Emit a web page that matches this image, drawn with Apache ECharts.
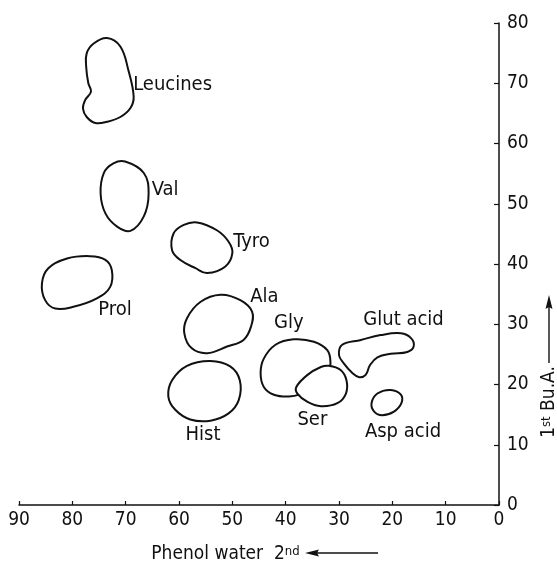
<!DOCTYPE html>
<html><head><meta charset="utf-8">
<script src="https://cdn.jsdelivr.net/npm/echarts@6/dist/echarts.min.js"></script>
<style>html,body{margin:0;padding:0;background:#fff}#c{width:557px;height:566px}</style>
</head><body><div id="c"></div>
<script>
// ---- data ----
const xTickValues = [0, 10, 20, 30, 40, 50, 60, 70, 80, 90];
const yTickValues = [0, 10, 20, 30, 40, 50, 60, 70, 80];
const spotNames = ['Leucines', 'Val', 'Tyro', 'Prol', 'Ala', 'Hist', 'Gly', 'Ser', 'Glut acid', 'Asp acid'];
// spot outlines: [phenol water (x), Bu.A. (y)]
const leucines = [[73.5,77.5],[71.0,76.1],[69.5,72.2],[68.5,67.8],[69.1,65.9],[71.0,64.4],[73.5,63.6],[75.7,63.4],[77.3,64.4],[78.0,65.8],[77.6,67.2],[76.5,68.6],[77.0,70.0],[77.4,72.7],[77.3,75.0],[76.0,76.6]];
const val = [[70.1,57.0],[66.6,55.1],[65.7,51.7],[66.6,47.9],[69.1,45.5],[71.6,46.2],[73.8,48.4],[74.7,51.7],[74.1,55.1],[72.3,56.7]];
const tyro = [[56.6,46.9],[52.9,45.6],[50.7,43.7],[50.0,41.8],[51.3,39.6],[54.7,38.5],[56.9,39.3],[59.8,40.7],[61.3,42.3],[61.0,45.1],[59.1,46.5]];
const prol = [[76.7,41.3],[73.8,40.7],[72.6,39.0],[72.9,36.2],[75.4,34.3],[79.8,32.9],[83.2,32.6],[85.1,34.0],[85.7,36.8],[84.5,39.3],[81.0,40.9]];
const ala = [[52.2,34.9],[48.5,34.0],[46.3,32.1],[46.5,29.6],[47.9,27.4],[51.0,26.3],[54.7,25.2],[57.6,26.0],[59.0,28.5],[58.5,31.0],[56.0,33.7]];
const hist = [[54.1,23.9],[50.4,23.0],[48.6,20.7],[48.8,17.4],[50.7,15.2],[54.1,14.0],[57.9,14.2],[60.7,15.8],[62.0,18.0],[61.3,20.7],[58.5,23.1]];
const gly = [[38.5,27.5],[34.7,27.1],[32.2,25.7],[31.6,23.7],[32.1,21.6],[34.4,19.6],[37.2,18.4],[39.4,18.0],[42.2,18.3],[44.1,19.6],[44.7,21.9],[44.1,24.3],[41.9,26.6]];
const ser = [[31.9,23.1],[29.7,22.4],[28.6,20.7],[28.7,18.5],[30.3,16.9],[33.4,16.4],[35.9,17.1],[37.8,18.5],[38.0,19.6],[35.9,21.6],[33.4,22.9]];
const glutAcid = [[29.4,26.6],[25.9,27.4],[22.2,28.2],[18.4,28.5],[16.5,27.7],[16.0,26.3],[17.2,25.4],[20.3,25.1],[22.8,24.5],[24.2,23.2],[25.0,21.6],[26.2,21.2],[27.5,21.9],[29.1,23.5],[30.0,24.9]];
const aspAcid = [[20.3,19.1],[18.4,18.3],[18.3,16.9],[19.7,15.5],[21.9,14.9],[23.4,15.5],[23.9,16.9],[22.8,18.5]];
const spotOutlines = [leucines, val, tyro, prol, ala, hist, gly, ser, glutAcid, aspAcid];
const labelX = [61.2, 62.6, 46.4, 72.0, 44.0, 55.5, 39.4, 35.0, 17.9, 18.0];
const labelY = [69.7, 52.3, 43.7, 32.4, 34.6, 11.6, 30.2, 14.1, 30.8, 12.2];

// ---- chart ----
const FONT = "'Liberation Sans Narrow','DejaVu Sans Condensed',sans-serif";
const INK = '#111111';
const chart = echarts.init(document.getElementById('c'), null, {renderer: 'canvas'});
chart.setOption({
  animation: false,
  backgroundColor: '#fff',
  grid: {left: 19, right: 58, top: 23, bottom: 61, containLabel: false, outerBoundsMode: 'none'},
  xAxis: {
    type: 'value', inverse: true, min: 0, max: 90, interval: 10,
    axisLine: {show: true, onZero: false, lineStyle: {color: INK, width: 1.5}},
    axisTick: {show: true, inside: true, length: 4, lineStyle: {color: INK, width: 1.2}},
    axisLabel: {margin: 6, fontFamily: FONT, fontSize: 19, color: INK,
      formatter: v => xTickValues.includes(v) ? String(v) : ''},
    splitLine: {show: false},
    name: '{t|Phenol water  2}{s|nd}',
    nameLocation: 'middle', nameGap: 40,
    nameTextStyle: {padding: [0, 67, 0, 0],
      rich: {t: {fontFamily: FONT, fontSize: 19, color: INK},
             s: {fontFamily: FONT, fontSize: 13, color: INK, verticalAlign: 'top'}}}
  },
  yAxis: {
    type: 'value', position: 'right', min: 0, max: 80, interval: 10,
    axisLine: {show: true, onZero: false, lineStyle: {color: INK, width: 1.5}},
    axisTick: {show: true, inside: true, length: 5, lineStyle: {color: INK, width: 1.2}},
    axisLabel: {margin: 8, fontFamily: FONT, fontSize: 19, color: INK,
      formatter: v => yTickValues.includes(v) ? String(v) : ''},
    splitLine: {show: false},
    name: '{t|1}{s|st}{t| Bu.A.}',
    nameLocation: 'middle', nameGap: 41,
    nameTextStyle: {padding: [0, 276, 0, 0],
      rich: {t: {fontFamily: FONT, fontSize: 19, color: INK},
             s: {fontFamily: FONT, fontSize: 13, color: INK, verticalAlign: 'top'}}}
  },
  graphic: [
    {type: 'line', shape: {x1: 378, y1: 553, x2: 312, y2: 553}, style: {stroke: INK, lineWidth: 1.4}},
    {type: 'polygon', shape: {points: [[305, 553], [319, 549.5], [317, 553], [319, 556.5]]}, style: {fill: INK}},
    {type: 'line', shape: {x1: 549, y1: 363, x2: 549, y2: 302}, style: {stroke: INK, lineWidth: 1.4}},
    {type: 'polygon', shape: {points: [[549, 295], [545.5, 309], [549, 307], [552.5, 309]]}, style: {fill: INK}}
  ],
  series: [
    {
      type: 'custom', coordinateSystem: 'cartesian2d', silent: true, clip: false,
      data: spotNames.map((n, i) => ({name: n, value: spotOutlines[i][0]})),
      renderItem: function (params, api) {
        const pts = spotOutlines[params.dataIndex].map(p => api.coord(p));
        return {type: 'polygon', shape: {points: pts, smooth: 0.4},
          style: {fill: '#fff', stroke: INK, lineWidth: 2}};
      }
    },
    {
      type: 'scatter', silent: true, symbolSize: 0,
      itemStyle: {color: '#ffffff', opacity: 1},
      emphasis: {disabled: true},
      data: spotNames.map((n, i) => ({name: n, value: [labelX[i], labelY[i]]})),
      label: {show: true, position: 'inside', formatter: '{b}', fontFamily: FONT, fontSize: 20,
        color: INK, opacity: 1}
    }
  ]
});
</script></body></html>
